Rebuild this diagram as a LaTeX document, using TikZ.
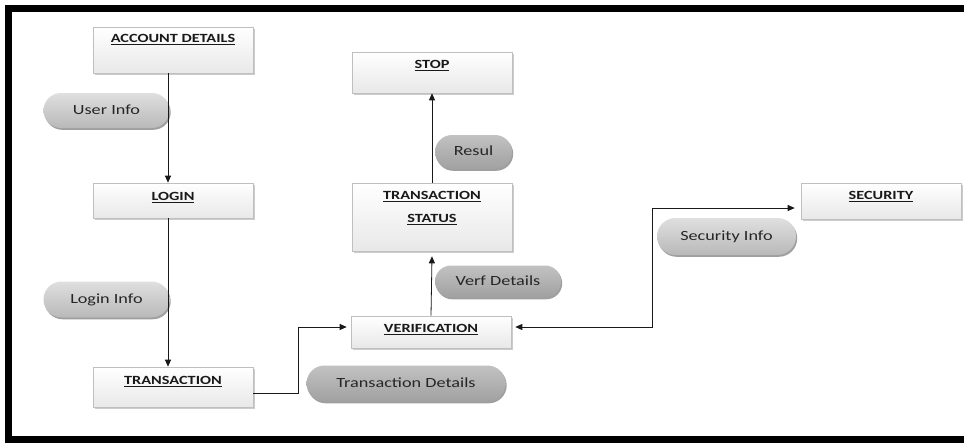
\documentclass[tikz,border=0pt]{standalone}
\usepackage{fontspec}
\setmainfont{Carlito}[FakeStretch=1.3]
\usetikzlibrary{shadows,arrows.meta,shapes.misc}
\begin{document}
\begin{tikzpicture}[x=1pt,y=-1pt,
  boxst/.style={draw=gray!50, line width=0.6pt, top color=white, bottom color=gray!18,
    minimum width=160pt, inner sep=0pt,
    drop shadow={shadow xshift=1.6pt, shadow yshift=-1.6pt, fill=gray!40, opacity=1}},
  lbl/.style={font=\bfseries\fontsize{12.5}{14}\selectfont, anchor=mid, inner sep=0pt, text=black!90},
  pillbase/.style={rounded rectangle, inner sep=0pt, draw=none,
    font=\fontsize{14}{16}\selectfont, text=black!85, text height=9pt, text depth=2pt,
    drop shadow={shadow xshift=1.2pt, shadow yshift=-1.8pt, fill=gray!75, opacity=1}},
  pilllight/.style={pillbase, top color=gray!25, bottom color=gray!55},
  pilldark/.style={pillbase, top color=gray!48, bottom color=gray!74},
  arr/.style={draw=black!90, line width=0.8pt, -{Triangle[length=7pt,width=6pt]}},
  biarr/.style={draw=black!90, line width=0.8pt, {Triangle[length=7pt,width=6pt]}-{Triangle[length=7pt,width=6pt]}}]
\useasboundingbox (0,0) rectangle (964,442);
\fill[white] (0,0) rectangle (964,442);
\draw[line width=6.5pt] (970,8.5) -- (8.5,8.5) -- (8.5,439.5) -- (970,439.5);

% boxes
\node[boxst, minimum height=46pt] (acc) at (173,50) {};
\node[boxst, minimum height=35pt] (login) at (173,200.5) {};
\node[boxst, minimum height=40pt] (trans) at (173,387) {};
\node[boxst, minimum height=32pt] (verif) at (431,332) {};
\node[boxst, minimum height=68pt] (ts) at (432,217) {};
\node[boxst, minimum height=41pt] (stop) at (432,72.5) {};
\node[boxst, minimum height=36pt] (sec) at (881,201) {};

% box labels
\node[lbl] (accT) at (173,40) {\underline{ACCOUNT DETAILS}};
\node[lbl] (loginT) at (173,198) {\underline{LOGIN}};
\node[lbl] (transT) at (173,382.5) {\underline{TRANSACTION}};
\node[lbl] (verifT) at (431,330) {\underline{VERIFICATION}};
\node[lbl] (tsT1) at (432,197) {\underline{TRANSACTION}};
\node[lbl] (tsT2) at (432,220) {\underline{STATUS}};
\node[lbl] (stopT) at (432,66.5) {\underline{STOP}};
\node[lbl] (secT) at (881,197.5) {\underline{SECURITY}};

% pills
\node[pilllight, minimum width=126pt, minimum height=35pt] (ui) at (106.5,110.5) {User Info};
\node[pilllight, minimum width=126pt, minimum height=36pt] (li) at (106.5,299.5) {Login Info};
\node[pilllight, minimum width=139pt, minimum height=37pt] (si) at (726.5,236.5) {Security Info};
\node[pilldark, minimum width=199pt, minimum height=36pt] (td) at (406,383.5) {Transaction Details};
\node[pilldark, minimum width=126pt, minimum height=32pt] (vd) at (498,281.5) {Verf Details};
\node[pilldark, minimum width=77pt, minimum height=34pt] (rs) at (473.5,152) {Resul};

% connector helper coordinates
\coordinate (xa) at (168,0);
\coordinate (xb) at (298,0);
\coordinate (xc) at (652,0);
\coordinate (ya) at (0,393);
\coordinate (yb) at (0,327);
\coordinate (yc) at (0,208);

% connectors
\draw[arr] (acc.south -| xa) -- (login.north -| xa);
\draw[arr] (login.south -| xa) -- (trans.north -| xa);
\draw[arr] (trans.east |- ya) -- (xb |- ya) -- (xb |- yb) -- ([xshift=-4pt]verif.west |- yb);
\draw[arr] (verif.north) -- ([yshift=-5pt]ts.south);
\draw[arr] (ts.north) -- (stop.south);
\draw[biarr] ([xshift=4pt]verif.east |- yb) -- (xc |- yb) -- (xc |- yc) -- ([xshift=-6pt]sec.west |- yc);
\end{tikzpicture}
\end{document}
